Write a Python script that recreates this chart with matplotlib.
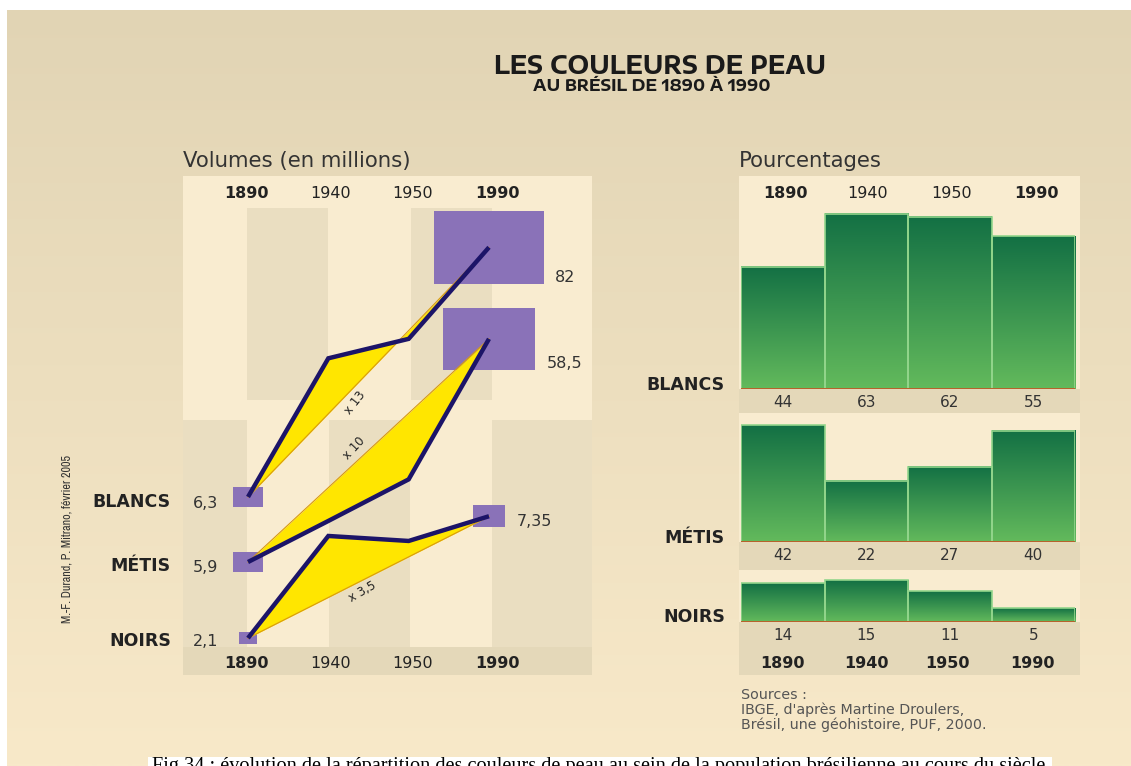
import numpy as np
import matplotlib
matplotlib.use('Agg')
import matplotlib.pyplot as plt
from matplotlib import font_manager
from matplotlib.patches import Rectangle
from matplotlib.colors import LinearSegmentedColormap

# ---------------- data ----------------
years = ['1890', '1940', '1950', '1990']
groups = ['BLANCS', 'MÉTIS', 'NOIRS']
vol_blancs = [6.3, 26.2, 32.0, 82.0]     # millions
vol_metis = [5.9, 9.0, 13.8, 58.5]
vol_noirs = [2.1, 6.0, 5.7, 7.35]
vol_start_labels = ['6,3', '5,9', '2,1']
vol_end_labels = ['82', '58,5', '7,35']
growth_labels = ['x 13', 'x 10', 'x 3,5']
pct_blancs = [44, 63, 62, 55]
pct_metis = [42, 22, 27, 40]
pct_noirs = [14, 15, 11, 5]

# ---------------- style / layout ----------------
W, H = 1131, 766
CREAM = '#f9ecd0'
TAN = '#e4d8b9'
BAND = '#eadec1'
NAVY = '#1c1468'
PURPLE = '#8a72b8'
YELLOW = '#ffe600'
ORANGE = '#d99a10'
EDGE = '#93d68c'
BASE = '#b8602a'
TXT = '#222222'

row_shift = [0.0, -0.262, -0.153]   # vertical offset of each row (decades)
PXX = 241 / 3.0                     # px per year-column step
PXY = 224.0                         # px per decade
SQ_K = 8.1                          # square height px per sqrt(million)

installed = set(f.name for f in font_manager.fontManager.ttflist)
TITLE_FONT = next((f for f in ['Encode Sans Expanded', 'Encode Sans Semi Expanded',
                               'Open Sans', 'DejaVu Sans'] if f in installed),
                  'DejaVu Sans')

fig = plt.figure(figsize=(W / 100, H / 100), dpi=100)


def fbox(x0, y0, x1, y1):
    return [x0 / W, 1 - y1 / H, (x1 - x0) / W, (y1 - y0) / H]


bg = fig.add_axes([0, 0, 1, 1], zorder=0)
bg.axis('off')

grad = np.linspace(0, 1, 256).reshape(-1, 1)
top_c = np.array([225, 212, 180]) / 255
bot_c = np.array([248, 233, 201]) / 255
img = top_c + (bot_c - top_c) * grad[..., None]
bg.imshow(img, extent=(0, W, H, 0), aspect='auto', interpolation='bilinear', zorder=0)
bg.set_xlim(0, W)
bg.set_ylim(H, 0)


def prect(x0, y0, x1, y1, c, z=1):
    bg.add_patch(Rectangle((x0, y0), x1 - x0, y1 - y0, facecolor=c,
                           edgecolor='none', zorder=z))


# white borders
prect(0, 0, W, 10, 'white', 5)
prect(0, 0, 7, H, 'white', 5)

# left panel background & bands
prect(183, 176, 592, 675, CREAM)
for x0, x1 in [(247, 328), (411, 492)]:
    prect(x0, 208, x1, 400, BAND, 1.1)
for x0, x1 in [(183, 247), (329, 410), (492, 592)]:
    prect(x0, 420, x1, 647, BAND, 1.1)
prect(183, 647, 592, 675, TAN, 1.2)

# right panel background
prect(739, 176, 1080, 389, CREAM)
prect(739, 389, 1080, 413, TAN)
prect(739, 413, 1080, 542, CREAM)
prect(739, 542, 1080, 570, TAN)
prect(739, 570, 1080, 622, CREAM)
prect(739, 622, 1080, 675, TAN)

# caption box
prect(148, 757, 1052, H + 5, 'white', 5)

# ---------------- left panel: volumes ----------------
axL = fig.add_axes(fbox(183, 208, 592, 647), zorder=2)
axL.patch.set_alpha(0)
axL.axis('off')
xi = np.arange(4)
vols = [vol_blancs, vol_metis, vol_noirs]
lab_anchor = [1.33, 1.32, 1.42]
lab_off = [(0, -16), (0, 16), (0, -11)]
lab_rot = [52, 47, 30]
for k, v in enumerate(vols):
    y = np.log10(np.array(v)) + row_shift[k]
    chord = y[0] + (y[-1] - y[0]) * xi / xi[-1]
    axL.fill_between(xi, y, chord, color=YELLOW, lw=0, zorder=3)
    axL.plot([xi[0], xi[-1]], [y[0], y[-1]], color=ORANGE, lw=0.8, zorder=3.5)
    axL.plot(xi, y, color=NAVY, lw=3.2, zorder=4, solid_capstyle='butt',
             solid_joinstyle='miter')
    for j in (0, 3):
        h = SQ_K * np.sqrt(v[j])
        w = 1.5 * h
        wd, hd = w / PXX, h / PXY
        axL.add_patch(Rectangle((xi[j] - wd / 2, y[j] - hd / 2), wd, hd,
                                facecolor=PURPLE, edgecolor='none', zorder=2,
                                clip_on=False))
    a = lab_anchor[k]
    yc = y[0] + (y[-1] - y[0]) * a / xi[-1]
    axL.annotate(growth_labels[k], xy=(a, yc), xytext=lab_off[k],
                 textcoords='offset pixels', ha='center', va='center',
                 rotation=lab_rot[k], fontsize=8.5, color=TXT, zorder=6)
axL.set_xlim(-(248 - 183) / PXX, 3 + (592 - 489) / PXX)
axL.set_ylim((676 - 647) / PXY, (676 - 208) / PXY)

# ---------------- right panel: percentages ----------------
pcts = [pct_blancs, pct_metis, pct_noirs]
baselines = [389, 542, 622]
ytops = [65, 45, 17]
PX_PER_PCT = 2.78
gcmap = LinearSegmentedColormap.from_list('g', ['#63ba5c', '#137044'])
for k in range(3):
    b = baselines[k]
    ymax = ytops[k]
    ax = fig.add_axes(fbox(741, b - ymax * PX_PER_PCT, 1075, b), zorder=2)
    ax.patch.set_alpha(0)
    ax.axis('off')
    bars = ax.bar(xi, pcts[k], width=1.0, facecolor='none', edgecolor=EDGE,
                  lw=1.2, zorder=3)
    for rect in bars:
        x0 = rect.get_x()
        ax.imshow(grad, extent=(x0, x0 + rect.get_width(), 0, rect.get_height()),
                  origin='lower', cmap=gcmap, aspect='auto', zorder=2)
    ax.axhline(0, color=BASE, lw=1.4, zorder=4)
    ax.set_xlim(-0.5, 3.5)
    ax.set_ylim(0, ymax)
    for i, val in enumerate(pcts[k]):
        ax.annotate(str(val), xy=(xi[i], 0), xytext=(0, -13),
                    textcoords='offset pixels', ha='center', va='center',
                    fontsize=11, color='#333333', annotation_clip=False)

# ---------------- texts ----------------
renderer = fig.canvas.get_renderer()


def fit(t, target, vertical=False):
    bb = t.get_window_extent(renderer)
    cur = bb.height if vertical else bb.width
    t.set_fontsize(t.get_fontsize() * target / cur)
    return t


def T(x, y, s, **kw):
    kw.setdefault('color', TXT)
    kw.setdefault('va', 'center')
    kw.setdefault('zorder', 6)
    return bg.text(x, y, s, **kw)


# title: compromise between reference cap height and reference width
for s, yb, cap, wref, xc in [('LES COULEURS DE PEAU', 74, 15.5, 375, 660),
                             ('AU BRÉSIL DE 1890 À 1990', 91, 10.2, 271, 652)]:
    fs_cap = cap / 0.72 * 72 / 100
    t = T(xc, yb, s, ha='center', va='baseline', fontsize=fs_cap,
          fontweight='bold', family=[TITLE_FONT, 'DejaVu Sans'], color='#1a1a1a')
    wcur = t.get_window_extent(renderer).width
    fs_w = fs_cap * wref / wcur
    t.set_fontsize(np.sqrt(fs_cap * fs_w) if fs_w > fs_cap else fs_w)

t = T(183, 161, 'Volumes (en millions)', ha='left', fontsize=11, color='#333333')
fit(t, 229)
t = T(739, 161, 'Pourcentages', ha='left', fontsize=11, color='#333333')
fit(t, 144)

# year labels
left_x = [246, 331, 413, 497]
right_top_x = [785, 868, 952, 1036]
right_bot_x = [782, 866, 947, 1032]
for i, yr in enumerate(years):
    wt = 'bold' if i in (0, 3) else 'normal'
    T(left_x[i], 193, yr, ha='center', fontsize=11.5, fontweight=wt)
    T(left_x[i], 663, yr, ha='center', fontsize=11.5, fontweight=wt)
    T(right_top_x[i], 193, yr, ha='center', fontsize=11.5, fontweight=wt)
    T(right_bot_x[i], 664, yr, ha='center', fontsize=11.5, fontweight='bold')

# row labels
left_row_y = [502, 566, 641]
right_row_y = [385, 538, 617]
for k, g in enumerate(groups):
    T(171, left_row_y[k], g, ha='right', fontsize=12.5, fontweight='bold')
    T(193, left_row_y[k] + 1, vol_start_labels[k], ha='left', fontsize=11.5,
      color='#333333')
    T(725, right_row_y[k], g, ha='right', fontsize=12.5, fontweight='bold')

end_pos = [(555, 278), (547, 364), (517, 521)]
for k, s in enumerate(vol_end_labels):
    T(end_pos[k][0], end_pos[k][1], s, ha='left', fontsize=11.5, color='#333333')

# sources
src = ['Sources :', "IBGE, d'après Martine Droulers,",
       'Brésil, une géohistoire, PUF, 2000.']
src_y = [695, 710, 725]
for s, yy in zip(src, src_y):
    T(741, yy, s, ha='left', fontsize=10.3, color='#555555')

# credit
t = T(67, 539, 'M.-F. Durand, P. Mitrano, février 2005', ha='center',
      rotation=90, fontsize=9, color='#333333',
      family=['Liberation Sans Narrow', 'Archivo Narrow', 'DejaVu Sans'])
fit(t, 167, vertical=True)

# caption (cut at the bottom of the image)
t = T(152, 757.5,
      'Fig 34 : évolution de la répartition des couleurs de peau au sein de '
      'la population brésilienne au cours du siècle',
      ha='left', va='top', fontsize=13, color='black',
      family=['Liberation Serif', 'DejaVu Serif'], zorder=7)
fit(t, 890)

fig.savefig('out.png', dpi=100)
